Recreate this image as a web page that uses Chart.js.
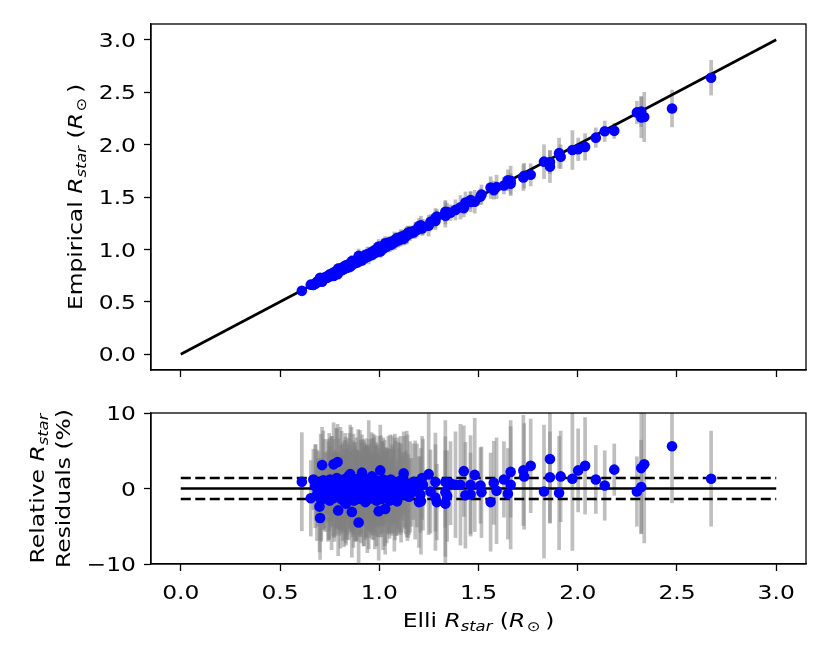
<!DOCTYPE html>
<html>
<head>
<meta charset="utf-8">
<script src="https://cdn.jsdelivr.net/npm/chart.js@4.4.1/dist/chart.umd.min.js"></script>
<style>
  html, body { margin: 0; padding: 0; background: #fff; }
  #wrap { position: relative; width: 830px; height: 664px; overflow: hidden; }
  #top { position: absolute; left: 0; top: 0; }
  #bottom { position: absolute; left: 0; top: 392px; }
</style>
</head>
<body>
<div id="wrap">
  <canvas id="top" width="830" height="392"></canvas>
  <canvas id="bottom" width="830" height="272"></canvas>
</div>
<script>
// Elli radius (x), empirical radius (top y), relative residual in % (bottom y), error in %
const elliR = [
  0.610,0.655,0.668,0.677,0.690,0.699,0.702,0.705,0.712,0.715,
  0.722,0.728,0.733,0.740,0.745,0.750,0.755,0.760,0.765,0.770,
  0.774,0.778,0.782,0.786,0.790,0.793,0.797,0.800,0.804,0.808,
  0.812,0.816,0.820,0.824,0.828,0.832,0.836,0.840,0.844,0.848,
  0.852,0.854,0.858,0.862,0.866,0.870,0.874,0.878,0.882,0.886,
  0.890,0.894,0.896,0.900,0.905,0.909,0.913,0.917,0.921,0.925,
  0.930,0.934,0.938,0.942,0.947,0.951,0.955,0.959,0.963,0.967,
  0.971,0.975,0.980,0.984,0.988,0.992,0.997,1.001,1.005,1.010,
  1.014,1.019,1.023,1.030,1.035,1.040,1.046,1.052,1.058,1.064,
  1.070,1.076,1.082,1.090,1.096,1.103,1.110,1.117,1.123,1.130,
  1.138,1.146,1.155,1.163,1.172,1.181,1.190,1.200,1.207,1.210,
  1.216,1.220,1.249,1.258,1.283,1.283,1.290,1.333,1.333,1.342,
  1.333,1.359,1.384,1.409,1.426,1.434,1.460,1.460,1.481,1.510,
  1.515,1.561,1.577,1.591,1.628,1.648,1.662,1.662,1.726,1.730,
  1.763,1.830,1.860,1.860,1.906,1.914,1.973,2.002,2.037,2.091,
  2.136,2.184,2.298,2.320,2.320,2.335,2.475,2.672,
  0.680,0.686,0.694,0.708,0.718,0.725,0.736,0.742,0.748,0.752,
  0.758,0.762,0.768,0.772,0.776,0.780,0.784,0.788,0.795,0.802,
  0.806,0.810,0.814,0.818,0.822,0.826,0.830,0.834,0.838,0.842,
  0.846,0.850,0.856,0.860,0.864,0.868,0.872,0.876,0.880,0.884,
  0.888,0.892,0.898,0.903,0.907,0.911,0.915,0.919,0.923,0.928,
  0.932,0.936,0.940,0.945,0.949,0.953,0.957,0.961,0.965,0.969,
  0.973,0.978,0.982,0.986,0.990,0.995,0.999,1.003,1.008,1.012,
  1.017,1.021,1.027,1.033,1.038,1.043,1.049,1.055,1.061,1.067,
  1.073,1.079,1.086,1.093,1.100,1.107,1.114,1.126,1.134,1.142,
  1.150
];
const empR = [
  0.605,0.664,0.660,0.675,0.693,0.716,0.730,0.704,0.691,0.721,
  0.718,0.737,0.733,0.733,0.747,0.762,0.750,0.765,0.763,0.746,
  0.782,0.771,0.784,0.775,0.763,0.817,0.794,0.806,0.803,0.819,
  0.806,0.819,0.810,0.831,0.826,0.849,0.831,0.841,0.831,0.857,
  0.850,0.838,0.862,0.890,0.860,0.873,0.865,0.891,0.878,0.893,
  0.890,0.883,0.938,0.902,0.897,0.920,0.894,0.914,0.927,0.919,
  0.947,0.933,0.928,0.946,0.942,0.961,0.947,0.960,0.948,0.974,
  0.969,0.989,0.974,0.987,0.978,1.001,1.028,0.998,0.981,1.015,
  1.007,1.030,1.023,1.059,1.026,1.044,1.042,1.069,1.045,1.066,
  1.065,1.085,1.073,1.109,1.095,1.092,1.117,1.114,1.101,1.133,
  1.131,1.158,1.153,1.169,1.162,1.183,1.185,1.222,1.217,1.231,
  1.199,1.214,1.226,1.263,1.272,1.299,1.314,1.322,1.340,1.356,
  1.360,1.350,1.377,1.402,1.394,1.447,1.472,1.453,1.455,1.504,
  1.523,1.590,1.565,1.596,1.609,1.660,1.654,1.626,1.686,1.703,
  1.712,1.837,1.790,1.833,1.918,1.884,1.948,1.955,1.978,2.066,
  2.127,2.131,2.307,2.315,2.259,2.263,2.344,2.638,
  0.675,0.692,0.691,0.719,0.710,0.726,0.731,0.749,0.746,0.743,
  0.761,0.755,0.778,0.772,0.772,0.786,0.776,0.790,0.790,0.811,
  0.804,0.801,0.819,0.815,0.836,0.819,0.832,0.823,0.844,0.838,
  0.857,0.843,0.858,0.851,0.872,0.865,0.886,0.871,0.884,0.874,
  0.897,0.888,0.903,0.897,0.920,0.910,0.906,0.922,0.933,0.921,
  0.937,0.933,0.954,0.934,0.951,0.948,0.965,0.952,0.977,0.969,
  0.966,0.983,0.971,1.002,0.986,0.997,0.990,1.012,1.003,1.026,
  1.015,1.009,1.033,1.029,1.051,1.035,1.052,1.049,1.071,1.056,
  1.077,1.077,1.099,1.085,1.102,1.103,1.123,1.116,1.140,1.141,
  1.163
];
const residPct = [
  0.9,-1.3,1.2,0.3,-0.5,-2.4,-3.9,0.2,3.1,-0.8,
  0.5,-1.2,0.0,1.0,-0.3,-1.6,0.6,-0.6,0.2,3.2,
  -1.0,0.9,-0.2,1.4,3.5,-2.9,0.4,-0.7,0.1,-1.4,
  0.8,-0.4,1.2,-0.9,0.3,-2.0,0.6,-0.1,1.6,-1.1,
  0.2,1.9,-0.5,-3.1,0.7,-0.3,1.0,-1.5,0.4,-0.8,
  0.0,1.3,-4.5,-0.2,0.9,-1.2,2.1,0.3,-0.6,0.6,
  -1.8,0.1,1.1,-0.4,0.5,-1.0,0.8,-0.1,1.6,-0.7,
  0.2,-1.4,0.6,-0.3,1.0,-0.9,-3.0,0.3,2.4,-0.5,
  0.7,-1.1,0.0,-2.7,0.9,-0.4,0.4,-1.6,1.2,-0.2,
  0.5,-0.8,0.8,-1.7,0.1,1.0,-0.6,0.3,2.0,-0.3,
  0.6,-1.0,0.2,-0.5,0.9,-0.2,0.4,-1.8,-0.8,-1.7,
  1.4,0.5,1.9,-0.4,0.85,-1.2,-1.8,0.85,-0.5,-1.0,
  -2.0,0.7,0.5,0.5,2.3,-0.9,-0.8,0.5,1.8,0.4,
  -0.5,-1.8,0.75,-0.3,1.2,-0.7,0.5,2.2,2.4,1.6,
  3.0,-0.4,3.9,1.5,-0.6,1.6,1.3,2.4,3.0,1.2,
  0.4,2.5,-0.4,0.2,2.7,3.2,5.6,1.3,
  0.8,-0.9,0.4,-1.5,1.1,-0.2,0.7,-1.0,0.3,1.2,
  -0.4,0.9,-1.3,0.0,0.5,-0.8,1.0,-0.3,0.6,-1.1,
  0.2,1.1,-0.6,0.4,-1.7,0.9,-0.2,1.3,-0.7,0.5,
  -1.3,0.8,-0.2,1.1,-0.9,0.3,-1.6,0.6,-0.4,1.2,
  -1.0,0.4,-0.6,0.7,-1.4,0.1,1.0,-0.3,-1.1,0.8,
  -0.5,0.3,-1.5,1.2,-0.2,0.5,-0.8,0.9,-1.2,0.0,
  0.7,-0.5,1.1,-1.6,0.4,-0.2,0.9,-0.9,0.5,-1.4,
  0.2,1.2,-0.6,0.4,-1.2,0.8,-0.3,0.6,-0.9,1.0,
  -0.4,0.2,-1.2,0.7,-0.2,0.4,-0.8,0.9,-0.5,0.1,
  -1.1
];
const errPct = [
  6.5,5.0,4.0,5.5,4.5,6.0,5.5,7.0,5.0,4.0,
  6.0,4.5,3.5,5.5,6.5,4.0,5.0,7.5,4.5,5.5,
  6.0,3.5,5.0,6.5,5.0,6.0,4.0,5.5,8.0,4.5,
  5.0,6.5,4.0,5.0,7.0,5.5,4.5,6.0,5.0,4.0,
  5.5,6.5,5.0,6.0,4.5,7.5,5.0,5.5,4.0,6.0,
  5.0,6.5,7.0,4.5,5.5,6.0,5.0,4.0,7.0,5.5,
  5.0,6.5,4.5,5.0,8.5,5.5,4.0,6.0,5.0,5.5,
  7.0,4.5,5.0,6.0,4.5,5.5,6.5,5.0,6.0,4.5,
  5.5,7.0,5.0,6.0,4.5,5.5,6.5,5.0,4.0,6.0,
  5.0,7.5,5.5,4.5,6.0,5.0,6.5,4.5,5.5,5.0,
  7.0,5.5,6.0,4.5,5.0,6.5,5.5,6.0,5.0,7.0,
  5.5,6.0,8.0,5.5,6.5,7.0,5.0,6.0,9.5,6.0,
  7.0,5.5,7.0,8.0,6.0,7.0,5.5,6.5,7.5,5.0,
  6.0,6.5,5.5,7.0,5.0,6.0,8.5,6.0,7.3,7.0,
  6.2,8.8,8.5,6.0,7.5,6.0,9.5,5.5,6.4,4.5,
  4.6,3.4,4.6,6.2,8.6,10.4,7.5,6.3,
  5.0,6.0,4.5,5.5,6.5,5.0,4.0,6.0,7.0,5.5,
  4.5,6.0,5.0,6.5,4.5,5.5,7.0,5.0,6.0,4.5,
  5.5,6.5,5.0,4.0,6.0,5.5,7.0,5.0,6.0,4.5,
  5.5,6.5,5.0,7.0,5.5,6.0,4.5,5.0,6.5,5.5,
  6.0,4.5,5.5,7.0,5.0,6.0,5.5,4.5,6.5,5.0,
  6.0,5.5,7.0,4.5,5.5,6.0,5.0,6.5,5.5,4.5,
  6.0,7.5,5.0,6.0,5.5,4.5,6.0,5.5,6.5,5.0,
  6.0,5.5,7.0,5.0,6.0,4.5,5.5,6.5,5.0,6.0,
  5.5,7.0,5.0,6.0,5.5,6.5,5.0,6.0,5.5,7.0,
  5.0
];

const xTicks = [0, 0.5, 1, 1.5, 2, 2.5, 3];
const topYTicks = [0, 0.5, 1, 1.5, 2, 2.5, 3];
const resYTicks = [-10, 0, 10];
const refLineX = [0, 3];
const oneToOneY = [0, 3];
const zeroY = [0, 0];
const bandHi = [1.4, 1.4];
const bandLo = [-1.4, -1.4];

const FAMILY = '"DejaVu Sans", sans-serif';
const FS = 19.5;
const SX = 1.2; // text in the reference is a bit wider than plain DejaVu

function partFont(style) {
  const size = style.includes('s') ? FS * 0.7 : FS;
  return (style.includes('i') ? 'italic ' : '') + size + 'px ' + FAMILY;
}

// draws mixed text (normal / italic / subscript), baseline at (x, y)
function drawText(ctx, parts, x, y, align, rotate) {
  ctx.save();
  ctx.translate(x, y);
  if (rotate) ctx.rotate(-Math.PI / 2);
  ctx.scale(SX, 1);
  ctx.fillStyle = '#000';
  ctx.textAlign = 'left';
  ctx.textBaseline = 'alphabetic';
  let w = 0;
  const widths = parts.map(p => { ctx.font = partFont(p[1]); const m = ctx.measureText(p[0]).width; w += m; return m; });
  let cx = align === 'right' ? -w : -w / 2;
  parts.forEach((p, i) => {
    ctx.font = partFont(p[1]);
    ctx.fillText(p[0], cx, p[1].includes('s') ? FS * 0.22 : 0);
    cx += widths[i];
  });
  ctx.restore();
}

function decor(cfg) {
  return {
    id: 'decor',
    afterDraw(chart) {
      const ctx = chart.ctx, a = chart.chartArea;
      ctx.save();
      ctx.strokeStyle = '#000';
      ctx.lineWidth = 1.3;
      ctx.strokeRect(a.left, a.top, a.right - a.left, a.bottom - a.top);
      ctx.restore();
      const ys = chart.scales.y;
      cfg.yTicks.forEach(v => drawText(ctx, [[cfg.yFmt(v), '']], 136, ys.getPixelForValue(v) + 7.2, 'right', false));
      if (cfg.xLabelBase) {
        const xs = chart.scales.x;
        xTicks.forEach(v => drawText(ctx, [[v.toFixed(1), '']], xs.getPixelForValue(v), cfg.xLabelBase, 'center', false));
      }
      cfg.yTitle.forEach(l => drawText(ctx, l.parts, l.x, (a.top + a.bottom) / 2, 'center', true));
      if (cfg.xTitle) drawText(ctx, cfg.xTitle, (a.left + a.right) / 2, cfg.xTitleBase, 'center', false);
    }
  };
}

function axis(min, max, ticksArr, size, horizontal) {
  return {
    type: 'linear', min: min, max: max, offset: false,
    afterBuildTicks: s => { s.ticks = ticksArr.map(v => ({ value: v })); },
    afterFit: s => { if (horizontal) s.height = size; else s.width = size; },
    ticks: { display: false },
    grid: { display: true, drawOnChartArea: false, drawTicks: true, tickLength: 7,
            tickWidth: 1.3, tickColor: '#000', offset: false },
    border: { display: true, color: '#000', width: 1.3 }
  };
}

const errColor = 'rgba(128,128,128,0.5)';
const common = {
  responsive: false, animation: false, events: [],
  plugins: { legend: { display: false }, tooltip: { enabled: false } }
};

new Chart(document.getElementById('top'), {
  type: 'scatter',
  data: {
    datasets: [
      { type: 'bar', order: 3, backgroundColor: errColor, barThickness: 3, borderWidth: 0,
        data: elliR.map((x, i) => ({ x: x, y: [empR[i] * (1 - errPct[i] / 100), empR[i] * (1 + errPct[i] / 100)] })) },
      { type: 'line', order: 2, borderColor: '#000', borderWidth: 2.6, pointRadius: 0,
        data: refLineX.map((x, i) => ({ x: x, y: oneToOneY[i] })) },
      { type: 'scatter', order: 1, backgroundColor: '#0000ff', borderWidth: 0, pointRadius: 5.3,
        data: elliR.map((x, i) => ({ x: x, y: empR[i] })) }
    ]
  },
  options: Object.assign({}, common, {
    layout: { padding: { top: 24, right: 24, left: 0, bottom: 0 } },
    scales: {
      x: axis(-0.15, 3.15, xTicks, 22, true),
      y: axis(-0.15, 3.15, topYTicks, 151, false)
    }
  }),
  plugins: [decor({
    yTicks: topYTicks, yFmt: v => v.toFixed(1),
    yTitle: [{ x: 82, parts: [['Empirical ', ''], ['R', 'i'], ['star', 'is'], [' (', ''], ['R', 'i'], ['\u200a\u2299', 's'], ['\u2009)', '']] }]
  })]
});

new Chart(document.getElementById('bottom'), {
  type: 'scatter',
  data: {
    datasets: [
      { type: 'bar', order: 5, backgroundColor: errColor, barThickness: 3, borderWidth: 0,
        data: elliR.map((x, i) => ({ x: x, y: [residPct[i] - errPct[i], residPct[i] + errPct[i]] })) },
      { type: 'line', order: 4, borderColor: '#000', borderWidth: 2.6, pointRadius: 0,
        data: refLineX.map((x, i) => ({ x: x, y: zeroY[i] })) },
      { type: 'line', order: 3, borderColor: '#000', borderWidth: 2.6, pointRadius: 0, borderDash: [10, 4.5],
        data: refLineX.map((x, i) => ({ x: x, y: bandHi[i] })) },
      { type: 'line', order: 2, borderColor: '#000', borderWidth: 2.6, pointRadius: 0, borderDash: [10, 4.5],
        data: refLineX.map((x, i) => ({ x: x, y: bandLo[i] })) },
      { type: 'scatter', order: 1, backgroundColor: '#0000ff', borderWidth: 0, pointRadius: 5.3,
        data: elliR.map((x, i) => ({ x: x, y: residPct[i] })) }
    ]
  },
  options: Object.assign({}, common, {
    layout: { padding: { top: 21, right: 24, left: 0, bottom: 0 } },
    scales: {
      x: axis(-0.15, 3.15, xTicks, 100, true),
      y: axis(-10, 10, resYTicks, 151, false)
    }
  }),
  plugins: [decor({
    yTicks: resYTicks, yFmt: v => (v < 0 ? '\u2212' + Math.abs(v) : String(v)),
    xLabelBase: 599 - 392,
    xTitle: [['Elli ', ''], ['R', 'i'], ['star', 'is'], [' (', ''], ['R', 'i'], ['\u200a\u2299', 's'], ['\u2009)', '']],
    xTitleBase: 627 - 392,
    yTitle: [
      { x: 43.5, parts: [['Relative ', ''], ['R', 'i'], ['star', 'is']] },
      { x: 70, parts: [['Residuals (%)', '']] }
    ]
  })]
});
</script>
</body>
</html>
